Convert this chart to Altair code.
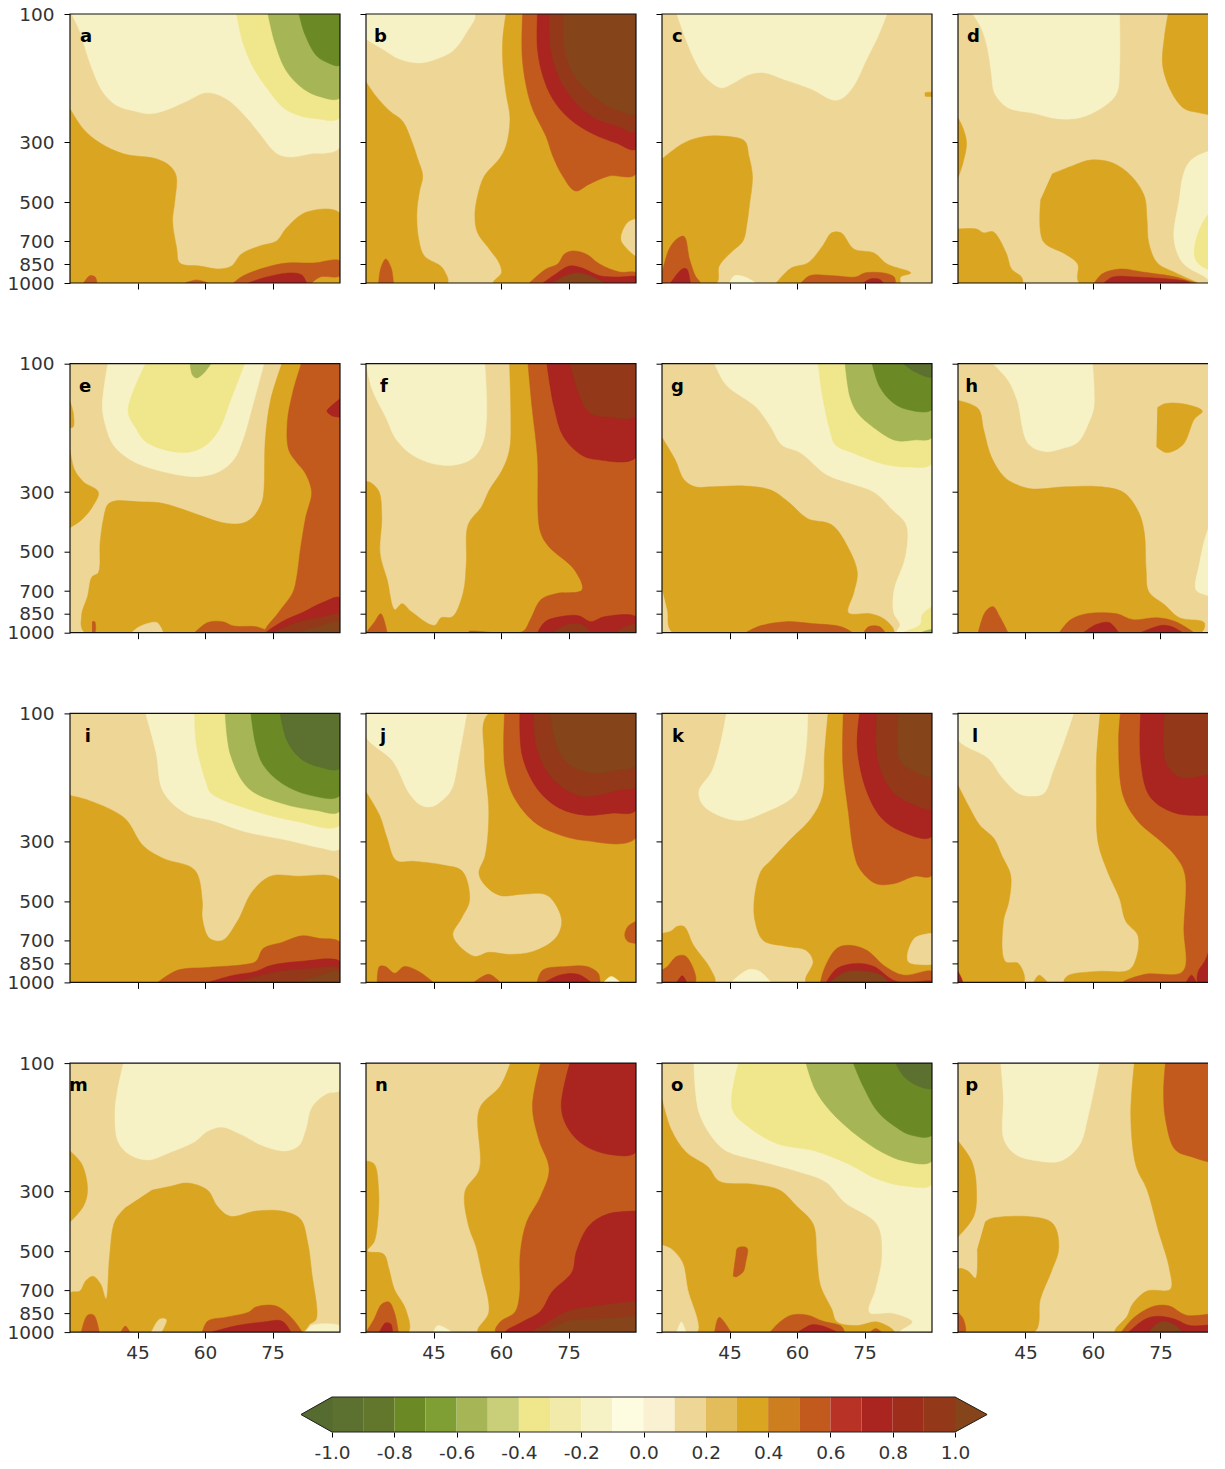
import altair as alt
import pandas as pd

BANDS = ["N", "M", "L", "K", "C", "T", "G", "O", "R", "B", "D"]
BAND_COLORS = ["#5C7030", "#6B8A25", "#A6B555", "#F0E68C", "#F7F2C5", "#EED696",
               "#DAA520", "#C25A1E", "#AA2420", "#93391A", "#85441A"]
FULL = [(30, 100), (90, 100), (90, 1000), (30, 1000)]

PANEL_A = [("T", FULL),
 ("G", [(30,225),(33,268),(36.7,302),(41.9,331),(49.3,346),(52.2,367),(53.6,400),(53.3,495),(52.8,588),(53.7,741),(54.4,843),(58.9,865),(63,887),(65.9,865),(68.1,780),(72.2,728),(75.9,698),(78.1,625),(82.6,545),(90,550),(90,1000),(30,1000)]),
 ("C", [(30.4,100),(32.2,116),(33.3,133),(34.8,158),(37.4,196),(40.4,219),(44.1,229),(47.8,235),(51.5,227),(55.9,211),(60.4,196),(64.8,207),(69.3,243),(72.2,279),(75.9,329),(78.9,340),(83.3,331),(90,313),(90,100)]),
 ("K", [(67,100),(68.5,129),(70.7,158),(73.7,188),(77.4,223),(81.1,239),(84.8,245),(90,243),(90,100)]),
 ("L", [(74,100),(75.6,129),(78.1,163),(81.9,190),(85.6,203),(90,205),(90,100)]),
 ("M", [(80.9,100),(82.2,119),(84.8,143),(87.4,152),(90,155),(90,100)]),
 ("O", [(66.3,1000),(68.5,940),(73,880),(78.1,843),(84,843),(90,828),(90,940),(85.6,950),(83.7,1000)]),
 ("R", [(69.6,1000),(73.7,950),(78.9,917),(81.5,933),(82.6,1000)]),
 ("O", [(33,1000),(34.4,940),(35.6,950),(36,1000)]),
 ("O", [(55.6,1000),(58.1,975),(60.7,1000)]),
]
PANEL_B = [("T", FULL),
 ("C", [(30,100),(54.1,100),(52.2,118),(49.3,137),(45.6,147),(41.9,152),(37.4,147),(33.7,135),(30,124)]),
 ("G", [(30,179),(32.2,202),(35.2,229),(38.1,250),(40,292),(41.5,346),(42.6,400),(41.9,455),(41.3,550),(41.7,686),(43,795),(46.3,858),(47.4,900),(48.1,1000),(30,1000)]),
 ("O", [(32.8,1000),(33.3,880),(34.4,814),(35.6,880),(36.1,1000)]),
 ("G", [(61.1,100),(60.4,124),(60.4,152),(61.1,196),(62,245),(61.1,310),(59.6,346),(56.3,400),(54.8,475),(54.2,564),(54.8,651),(57.4,747),(59.6,843),(60.1,917),(58.3,1000),(90,1000),(90,100)]),
 ("T", [(89.9,578),(88.1,598),(86.7,686),(88.1,747),(90,795)]),
 ("O", [(64.8,100),(64.7,143),(65.6,185),(67,225),(70,285),(71.5,337),(73.7,400),(76.5,455),(79.6,429),(84,400),(90,393),(90,100)]),
 ("R", [(68.1,100),(68.1,135),(69.3,170),(71.5,207),(75.2,245),(80.4,279),(85.6,302),(90,318),(90,100)]),
 ("B", [(70.7,100),(71.1,135),(73,174),(76.7,214),(81.1,245),(85.6,260),(90,273),(90,100)]),
 ("D", [(73.9,100),(73.9,124),(75.2,156),(78.1,185),(82.6,214),(86.3,229),(90,235),(90,100)]),
 ("O", [(66.3,1000),(70,887),(72.6,850),(74.1,780),(75.9,760),(78.9,780),(81.9,850),(86.3,910),(90,917),(90,1000)]),
 ("R", [(69.3,1000),(72.2,925),(75.2,865),(78.1,880),(81.9,940),(86.3,950),(90,950),(90,1000)]),
 ("D", [(71.5,1000),(74.4,940),(77.4,917),(80.4,950),(83,1000)]),
]
PANEL_C = [("T", FULL),
 ("C", [(33.3,100),(35.3,124),(37.4,150),(39.4,170),(43.1,188),(46,180),(49.3,168),(52.5,165),(57.5,176),(63.2,190),(68.1,209),(70.2,205),(72.6,185),(75.5,147),(78,121),(80,100)]),
 ("G", [(30,346),(34.5,304),(38.6,287),(44.3,285),(48.4,297),(49.3,337),(50.1,400),(49.4,518),(48.9,598),(48,698),(45.2,773),(42.7,865),(42.1,1000),(30,1000)]),
 ("O", [(30,917),(31.6,747),(33.3,686),(34.9,671),(36.1,814),(37.4,940),(38.4,1000),(30,1000)]),
 ("R", [(31.9,1000),(34.5,887),(35.5,887),(36.3,1000)]),
 ("C", [(45,1000),(46.1,940),(48.4,950),(50.9,1000)]),
 ("G", [(55.4,1000),(58.7,880),(62.4,843),(65.7,728),(67.7,651),(69.8,651),(72.6,747),(77.1,773),(80,850),(85.3,917),(83,950),(83,1000)]),
 ("O", [(60.9,1000),(62.8,940),(68.1,940),(73,950),(75.1,917),(79.6,920),(81.6,950),(81.9,1000)]),
 ("R", [(74.7,1000),(76.3,966),(78.4,970),(79.2,1000)]),
 ("G", [(88.4,196),(90,196),(90,202),(88.4,202)]),
]
PANEL_D = [("T", FULL),
 ("C", [(33.3,100),(35.3,114),(36.6,135),(37.4,165),(38.2,198),(41.1,223),(46.4,233),(52.1,245),(57,243),(62,223),(65.2,198),(65.9,156),(65.9,100)]),
 ("G", [(76.7,100),(75.9,121),(75.5,156),(77.5,196),(80,223),(82.5,231),(90,231),(90,100)]),
 ("G", [(30,243),(31.2,268),(31.9,302),(31.1,358),(30,407)]),
 ("G", [(50.9,393),(55.4,367),(59.5,349),(64.4,358),(68.5,400),(71.4,475),(72,578),(72.4,710),(74.3,843),(78.4,917),(82.5,985),(83.3,1000),(57,1000),(56.6,850),(53.8,780),(48.9,698),(48.4,487)]),
 ("G", [(30,630),(34.1,630),(35.7,651),(37.8,645),(40.7,773),(41.9,887),(44.1,950),(44.3,1000),(30,1000)]),
 ("O", [(60.3,1000),(62,925),(66.1,887),(71,910),(78.4,950),(82.9,1000)]),
 ("R", [(62.4,1000),(64.4,950),(69.3,950),(80.8,985),(81.6,1000)]),
 ("C", [(90,318),(85.7,324),(81.6,352),(80,400),(79.2,487),(78,686),(80,843),(84.9,950),(86.6,1000),(90,1000)]),
 ("K", [(90,487),(86.6,531),(83.7,630),(82.5,773),(83.3,843),(86.6,900),(90,880)]),
]
PANEL_E = [("T", FULL),
 ("G", [(77.1,100),(74.6,136),(73.4,192),(73.1,295),(72.6,329),(70.5,374),(68,393),(63.9,390),(59,367),(54,343),(49.9,329),(45,326),(40,324),(38.4,334),(37.4,380),(36.7,462),(36.3,598),(34.9,620),(33.9,734),(32.6,858),(33.3,1000),(90,1000),(90,100)]),
 ("O", [(81.4,100),(79.5,128),(78.3,165),(78.6,209),(80.4,233),(82.2,254),(83.7,300),(82.4,371),(81.2,490),(80.4,620),(79.5,710),(76.3,843),(73.4,1000),(90,1000),(90,100)]),
 ("O", [(57.7,1000),(60.6,917),(63.9,910),(66.4,945),(71.3,950),(75,1000)]),
 ("O", [(34.9,910),(35.5,910),(35.5,1000),(34.9,1000)]),
 ("T", [(43.7,1000),(45.4,950),(49.3,917),(50.7,1000)]),
 ("G", [(30,209),(31,248),(33,275),(36.3,300),(35,340),(32.6,380),(30,407)]),
 ("G", [(30,138),(30.7,152),(30.7,172),(30,173)]),
 ("C", [(38.4,100),(37.2,145),(38,172),(39.6,200),(43.3,227),(49.1,248),(58.1,263),(63.1,252),(66.4,227),(68.4,192),(70.5,145),(73.1,100)]),
 ("K", [(46.8,100),(42.9,150),(44.6,173),(47,196),(54.9,214),(59.8,203),(63.1,176),(65.6,138),(68.8,100)]),
 ("L", [(56.7,100),(57.2,110),(58.1,113),(59.8,108),(61.3,100)]),
 ("R", [(90,135),(87.8,145),(87.1,150),(88.2,156),(90,158)]),
 ("R", [(73.4,1000),(77.1,910),(82,836),(86.1,773),(90,741),(90,1000)]),
 ("B", [(75,1000),(80.4,917),(85.3,880),(90,858),(90,1000)]),
 ("D", [(80.4,1000),(85.3,945),(90,910),(90,1000)]),
]
PANEL_F = [("T", FULL),
 ("C", [(30,100),(31.4,125),(34.4,158),(36.8,192),(41,222),(47.6,239),(53.3,227),(55.8,200),(56.8,158),(56.4,100)]),
 ("G", [(61.9,100),(62.2,158),(61.9,209),(60.3,248),(57.4,295),(55.7,340),(52.7,397),(52.3,550),(51.6,710),(49.2,873),(46.7,880),(45.2,940),(40.1,836),(38,780),(36.4,821),(34.7,636),(33.1,505),(33.5,371),(32.7,295),(30,275),(30,1000),(90,1000),(90,100)]),
 ("O", [(66,100),(66.9,145),(68.1,222),(68.7,418),(70.6,478),(76.3,583),(78,693),(72.2,716),(68.9,753),(66.5,895),(64.8,990),(52.9,990),(52.9,1000),(90,1000),(90,100)]),
 ("O", [(30,1000),(31.8,917),(33.3,850),(34.7,1000)]),
 ("R", [(70.2,100),(71.8,145),(73.9,187),(78,219),(81.3,227),(90,223),(90,100)]),
 ("B", [(75.4,100),(77.2,128),(79.6,152),(83.7,158),(90,156),(90,100)]),
 ("R", [(68.1,1000),(69.8,910),(73,873),(77.2,865),(80,910),(82.9,873),(90,873),(90,1000)]),
 ("B", [(71.4,1000),(74.7,933),(78,933),(80,1000)]),
 ("B", [(85.4,1000),(87.9,945),(90,933),(90,1000)]),
]
PANEL_G = [("T", FULL),
 ("C", [(41.7,100),(44.3,120),(50.9,145),(54.2,172),(56.6,200),(60.7,214),(66.5,258),(71.4,277),(77.1,300),(81.2,349),(84.3,397),(84.1,522),(81.6,693),(81.5,843),(82.9,933),(82.2,1000),(90,1000),(90,100)]),
 ("K", [(64.7,100),(65.7,133),(67.3,176),(68.5,200),(72.2,214),(79.6,237),(84.5,242),(90,235),(90,100)]),
 ("L", [(70.7,100),(71.8,133),(73.4,152),(77.1,173),(82,193),(86.1,192),(90,188),(90,100)]),
 ("M", [(76.7,100),(78.4,122),(81.2,139),(84.5,148),(90,148),(90,100)]),
 ("N", [(83.7,100),(86.1,107),(90,112),(90,100)]),
 ("G", [(30,188),(32.9,227),(34.9,270),(37.4,287),(41.1,287),(48.4,285),(54.2,295),(58.3,329),(62.4,377),(67.7,397),(71.4,484),(73.4,598),(72.6,710),(71.4,843),(76.3,850),(79.6,895),(81.5,1000),(32.4,1000),(31.2,821),(30,680)]),
 ("O", [(48.6,1000),(51.7,945),(57.5,910),(63.2,925),(69.8,950),(72.4,1000)]),
 ("O", [(74.8,1000),(75.9,950),(78.4,950),(79.6,1000)]),
 ("K", [(90,800),(87.8,858),(87.4,933),(83.7,1000),(90,1000)]),
 ("L", [(87.4,1000),(90,975),(90,1000)]),
]
PANEL_H = [("T", FULL),
 ("C", [(37.8,100),(41.1,115),(43.1,136),(45.6,198),(49.3,212),(53,207),(56.6,196),(59.1,165),(60.2,145),(59.9,100)]),
 ("G", [(74.3,146),(75.9,141),(80,141),(84.3,150),(82.5,161),(80,200),(76.3,214),(74.1,203)]),
 ("G", [(30,137),(34.5,147),(35.7,176),(37.4,222),(40.2,263),(43.1,282),(46.4,292),(53.8,287),(62,287),(66.9,302),(70.2,358),(71.4,425),(71.8,583),(72.4,704),(75.9,787),(79.2,880),(84.7,917),(84,1000),(30,1000)]),
 ("O", [(34.5,1000),(36.1,836),(37.8,800),(39.3,873),(41.1,1000)]),
 ("O", [(52.5,1000),(55,895),(58.7,850),(65.2,850),(68.9,895),(74.3,880),(78.4,910),(82.5,1000)]),
 ("R", [(57.9,1000),(60.7,933),(63.6,917),(65.7,1000)]),
 ("R", [(70.6,1000),(75.1,940),(77.5,950),(80,1000)]),
 ("C", [(90,355),(87,371),(85.3,425),(83.7,550),(82.9,693),(84.9,722),(90,753)]),
]
PANEL_I = [("T", FULL),
 ("G", [(30,202),(34.3,211),(42.1,245),(46.2,310),(50.7,346),(57.7,382),(59.4,500),(59.4,578),(61,686),(63.9,698),(67.2,593),(70.5,460),(74.6,403),(80.4,403),(90,418),(90,1000),(30,1000)]),
 ("C", [(46.8,100),(49.1,139),(50.7,195),(55.7,235),(62.3,252),(68.8,275),(78.7,297),(85.3,315),(90,318),(90,100)]),
 ("K", [(57.7,100),(58.1,131),(60.2,179),(61.4,198),(70.5,229),(80.4,252),(90,260),(90,100)]),
 ("L", [(64.5,100),(65.7,143),(69.7,190),(77.1,216),(84.5,229),(90,231),(90,100)]),
 ("M", [(70.2,100),(71.3,131),(73,156),(77.1,182),(83.7,202),(90,202),(90,100)]),
 ("N", [(76.7,100),(78.3,127),(81.2,147),(85.3,158),(90,160),(90,100)]),
 ("O", [(49.5,1000),(54,900),(60.6,880),(68.8,858),(71.3,836),(73,747),(77.1,710),(81.6,671),(85.3,686),(90,710),(90,1000)]),
 ("R", [(60.6,1000),(66.4,940),(71.3,910),(74.6,865),(81.2,836),(90,836),(90,1000)]),
 ("B", [(66.4,1000),(72.1,945),(76.3,910),(83.7,887),(90,887),(90,1000)]),
 ("D", [(80.4,1000),(85.3,945),(90,910),(90,1000)]),
]
PANEL_J = [("T", FULL),
 ("G", [(30,196),(33,239),(34.7,292),(36.7,352),(40.9,355),(47.4,367),(51.4,386),(53,495),(51.2,578),(49.3,671),(54,800),(57.3,773),(61.9,787),(67.2,767),(72.1,686),(73.5,593),(71.7,500),(69.7,470),(64.7,470),(59.8,475),(56.5,436),(55.1,393),(56.5,337),(57.3,231),(56.3,143),(57.3,100),(90,100),(90,1000),(30,1000)]),
 ("C", [(30,100),(30,122),(35.9,150),(39.6,198),(42.1,219),(44.6,222),(47.4,207),(49.1,190),(50.7,143),(52.4,100)]),
 ("O", [(60.8,100),(60.8,156),(62.7,202),(67.2,252),(72.1,279),(78.7,297),(90,290),(90,100)]),
 ("R", [(64.2,100),(64.7,143),(68,190),(73,225),(78.7,239),(84.5,235),(90,229),(90,100)]),
 ("B", [(67.2,100),(68,135),(71.3,174),(77.1,202),(81.2,202),(86.1,193),(90,187),(90,100)]),
 ("D", [(70.9,100),(72.6,135),(75.4,156),(80.4,167),(85.3,163),(90,156),(90,100)]),
 ("O", [(90,593),(88.2,620),(87.5,671),(88.2,704),(90,716)]),
 ("O", [(32.5,1000),(33,873),(34.3,873),(36.4,925),(38.5,873),(41.7,910),(45,1000)]),
 ("O", [(54,1000),(57.3,933),(59.8,1000)]),
 ("O", [(68,1000),(69.3,900),(74.6,873),(79.1,873),(81.6,925),(82,1000)]),
 ("R", [(69.7,1000),(73,940),(77.1,933),(80,1000)]),
 ("C", [(82.8,1000),(84.5,950),(86.5,1000)]),
]
PANEL_K = [("T", FULL),
 ("C", [(44.3,100),(43.1,127),(41.1,164),(38.2,195),(39.4,222),(46.8,250),(53.4,231),(58.7,207),(60.3,190),(62,135),(62.4,100)]),
 ("G", [(66.9,100),(66.1,143),(65.7,202),(63.2,245),(58.3,297),(54.2,352),(52,386),(50.5,495),(50.7,593),(52.5,698),(57.5,734),(62,760),(63.6,836),(62,1000),(90,1000),(90,100)]),
 ("T", [(90,657),(86.1,686),(84.7,836),(90,858)]),
 ("O", [(70.3,100),(70.2,156),(71.4,231),(72.6,326),(73.9,377),(77.5,429),(81.6,429),(86.1,403),(90,400),(90,100)]),
 ("R", [(73.9,100),(73.4,135),(75.5,195),(78.8,245),(82.9,273),(90,287),(90,100)]),
 ("B", [(77.7,100),(78,150),(81.2,195),(85.3,216),(90,225),(90,100)]),
 ("D", [(82.5,100),(82.9,150),(86.1,164),(90,172),(90,100)]),
 ("G", [(30,657),(32,645),(33.3,620),(34.9,620),(37,728),(40.7,887),(41.7,1000),(30,1000)]),
 ("O", [(30,900),(31.2,873),(33.3,800),(35.3,800),(37.4,1000),(30,1000)]),
 ("R", [(33.3,1000),(34.5,945),(35.5,1000)]),
 ("C", [(45.3,1000),(49.3,895),(51.7,910),(54.2,1000)]),
 ("O", [(65.2,1000),(66.1,887),(68.9,747),(71.8,728),(75.5,760),(79.6,873),(83.7,940),(90,910),(90,1000)]),
 ("R", [(66.5,1000),(68.9,887),(73.4,850),(77.1,873),(82,990),(90,990),(90,1000)]),
 ("D", [(67.3,1000),(70.6,917),(75.5,910),(78.8,940),(80.4,1000)]),
]
PANEL_L = [("T", FULL),
 ("C", [(30,100),(30,125),(36.8,147),(39.7,172),(43.4,198),(46.2,203),(49.1,198),(51.1,164),(53.6,127),(55.7,100)]),
 ("G", [(30,185),(32.3,220),(34.8,260),(38,292),(39.7,337),(41.7,400),(41.3,500),(40.1,593),(40.5,836),(43.4,850),(44.6,1000),(30,1000)]),
 ("G", [(46.8,1000),(48,940),(49.9,1000)]),
 ("G", [(61.6,100),(60.8,147),(60.8,202),(61.1,300),(63.4,393),(65.9,487),(67.3,593),(70,671),(69.6,814),(68,900),(61,910),(54.4,945),(53.6,1000),(90,1000),(90,100)]),
 ("O", [(66.1,100),(65.7,127),(66.7,202),(70,252),(74.9,297),(78.2,337),(80.4,393),(80.2,630),(80,910),(71.6,933),(66.7,1000),(90,1000),(90,100)]),
 ("R", [(70.6,100),(70.6,150),(72.5,202),(76.6,229),(81.5,239),(90,225),(90,100)]),
 ("B", [(75.9,100),(76.1,150),(79,172),(83.1,172),(90,156),(90,100)]),
 ("R", [(90,570),(87.2,668),(84.8,836),(83.4,910),(83.4,1000),(90,1000)]),
 ("D", [(86.4,1000),(87.6,940),(90,910),(90,1000)]),
 ("R", [(30,910),(31,1000),(30,1000)]),
 ("R", [(80.7,1000),(81.9,940),(83,1000)]),
]
PANEL_M = [("T", FULL),
 ("C", [(41.9,100),(40.5,128),(40,152),(40.7,196),(43.3,219),(47.4,229),(52.4,214),(57.7,196),(60.6,179),(63.9,173),(68,184),(72.9,203),(77.9,212),(80.8,203),(82.4,176),(83.7,146),(87,130),(90,126),(90,100)]),
 ("G", [(30,212),(32.6,237),(33.9,295),(33,340),(30,390)]),
 ("G", [(48.1,297),(52.4,287),(56.1,279),(60.6,297),(62.7,340),(65.6,371),(71.3,355),(77.1,355),(81.2,380),(82.8,462),(83.7,598),(84.7,895),(83.3,933),(81.6,1000),(30,1000),(30,716),(32.2,704),(33.5,645),(35.1,620),(36.8,663),(38,753),(38.8,522),(40,386),(42.5,343)]),
 ("T", [(48.1,1000),(49.9,895),(51.4,900),(50.3,1000)]),
 ("O", [(32.5,1000),(33.9,865),(35.3,865),(36.5,1000)]),
 ("O", [(41.3,1000),(42.3,950),(43.3,1000)]),
 ("O", [(59.4,1000),(60.6,910),(64.7,880),(69.7,843),(71.3,807),(75.8,800),(79.5,895),(81.6,1000)]),
 ("R", [(61.4,1000),(67.2,945),(73,917),(77.1,910),(79.1,1000)]),
 ("C", [(82.4,1000),(83.7,945),(90,950),(90,1000)]),
]
PANEL_N = [("T", FULL),
 ("G", [(30,231),(31.8,237),(32.8,295),(32.6,390),(31.8,462),(30.3,500),(33.9,513),(35.1,583),(36.3,693),(38.8,821),(39.4,1000),(30,1000)]),
 ("O", [(30,1000),(31.8,895),(33.5,787),(35.1,773),(36.3,843),(37.2,1000)]),
 ("R", [(33,1000),(34.3,925),(35.5,933),(35.9,1000)]),
 ("G", [(62.1,100),(59.8,122),(55.2,148),(55.2,248),(52,300),(52.8,403),(54.4,478),(55.7,598),(57.3,843),(54.9,1000),(90,1000),(90,100)]),
 ("O", [(68.8,100),(67,145),(68.4,192),(70.7,248),(68.8,313),(65.7,390),(64.3,505),(64.1,734),(63.1,843),(59.8,917),(58.8,1000),(90,1000),(90,100)]),
 ("R", [(75.3,100),(73.4,146),(75,176),(78.7,203),(84.5,219),(90,214),(90,100)]),
 ("R", [(90,355),(83.7,364),(79.5,403),(76.7,505),(75.8,598),(71.3,710),(68.8,836),(64.7,917),(61,1000),(90,1000)]),
 ("B", [(90,767),(81.2,800),(75,836),(70.5,917),(67.2,1000),(90,1000)]),
 ("D", [(90,873),(81.2,895),(75,910),(70.5,1000),(90,1000)]),
 ("C", [(45,1000),(46,945),(49.1,1000)]),
]
PANEL_O = [("T", FULL),
 ("G", [(30,136),(32,176),(35.3,214),(40.2,243),(42.7,275),(50.1,282),(56.2,297),(59.9,340),(63.6,397),(64.4,522),(65.2,671),(67.7,821),(68.9,917),(73.4,945),(77.9,917),(81.6,1000),(30,1000)]),
 ("T", [(30,475),(32,490),(34.5,550),(35.7,693),(37.8,1000),(30,1000)]),
 ("C", [(37.1,100),(38.2,152),(41.5,192),(44.3,212),(51.7,231),(59.9,252),(66.5,277),(70.6,329),(77.8,397),(78.9,522),(77.5,693),(76.1,843),(81.2,850),(85.7,917),(82.9,1000),(90,1000),(90,100)]),
 ("K", [(47,100),(45.6,148),(49.3,173),(55.8,200),(64,212),(71.4,237),(77.9,270),(84.5,287),(90,282),(90,100)]),
 ("L", [(62,100),(64,125),(67.3,150),(73,184),(78.8,214),(83.7,231),(90,231),(90,100)]),
 ("M", [(72.5,100),(74.7,122),(78,152),(82,173),(85.3,185),(90,185),(90,100)]),
 ("N", [(81.9,100),(83.7,112),(86.6,121),(90,124),(90,100)]),
 ("O", [(45.8,620),(46.4,522),(46.8,487),(48.9,487),(48.6,550),(48,598),(46.4,625)]),
 ("O", [(41.7,1000),(42.7,880),(45.3,1000)]),
 ("O", [(54,1000),(56.2,917),(58.7,865),(62.4,865),(65.7,910),(69.8,950),(70.6,1000)]),
 ("R", [(60.3,1000),(63.2,940),(65.7,950),(68.9,1000)]),
 ("O", [(76.3,1000),(77.5,970),(78.8,1000)]),
 ("C", [(33.3,1000),(34.3,917),(35.3,1000)]),
]
PANEL_P = [("T", FULL),
 ("C", [(39.5,100),(40.1,133),(40.2,192),(42.9,219),(47.9,231),(52.8,231),(56.9,203),(58.9,158),(61.4,100)]),
 ("G", [(69.2,100),(68.4,158),(69.6,242),(72,295),(74.5,418),(77,583),(77.2,693),(72,704),(68.8,787),(67.6,873),(64.9,1000),(90,1000),(90,100)]),
 ("O", [(76.1,100),(75.7,128),(76.1,161),(78.2,209),(81.5,222),(90,231),(90,100)]),
 ("G", [(30,195),(33.1,233),(34.1,295),(33.5,371),(30,442)]),
 ("G", [(36,390),(37.6,377),(50.7,390),(52.4,484),(50.7,598),(48.3,753),(47,1000),(30,1000),(30,583),(32.2,593),(33.9,630),(34.3,490)]),
 ("O", [(66.3,1000),(69.2,880),(73.7,800),(77,800),(80.7,865),(90,865),(90,1000)]),
 ("R", [(67.9,1000),(71.6,895),(74.5,873),(78.2,895),(81.5,945),(90,945),(90,1000)]),
 ("D", [(72.4,1000),(74.9,917),(77.8,933),(79.8,1000)]),
 ("O", [(30,843),(31.2,895),(31.6,1000),(30,1000)]),
]

PANELS = [PANEL_A, PANEL_B, PANEL_C, PANEL_D, PANEL_E, PANEL_F, PANEL_G, PANEL_H,
          PANEL_I, PANEL_J, PANEL_K, PANEL_L, PANEL_M, PANEL_N, PANEL_O, PANEL_P]
LETTERS = list("abcdefghijklmnop")
LETTER_LAT = [32.2, 31.8, 32.2, 32, 32, 33.1, 32, 31.6, 33.3, 33.1, 32.2, 33.1, 29.8, 32, 32, 31.6]
LETTER_P = 122
Y_TICKS = [100, 300, 500, 700, 850, 1000]
X_TICKS = [45, 60, 75]
LAST_COL_LAT = 87.56  # the fourth column runs off the right edge of the figure

CBAR_EDGES = [round(-1 + 0.1 * i, 1) for i in range(21)]
CBAR_COLORS = ["#5C7030", "#62762C", "#6B8A25", "#7F9F35", "#A6B555", "#C8CF78", "#F0E68C",
               "#F2EAA8", "#F7F2C5", "#FDFBE0", "#FAF0D2", "#EED696", "#E3BC5C", "#DAA520",
               "#CD7F20", "#C25A1E", "#B83226", "#AA2420", "#9E2D1C", "#93391A"]
CBAR_TICKS = [-1.0, -0.8, -0.6, -0.4, -0.2, 0.0, 0.2, 0.4, 0.6, 0.8, 1.0]
CBAR_LOW = ("#556B2F", [-1.0, -1.0995, -1.0], [1, 0.5, 0])
CBAR_HIGH = ("#85441A", [1.0, 1.103, 1.0], [1, 0.5, 0])
CBAR_OUT_X = [-1.0, 1.0, 1.103, 1.0, -1.0, -1.0995, -1.0]
CBAR_OUT_Y = [1, 1, 0.5, 0, 0, 0.5, 1]

FONT = "DejaVu Sans"
FS = 18.5
TC = "#333333"
PW, PH = 270, 269

color_scale = alt.Scale(domain=BANDS, range=BAND_COLORS)
YS = alt.Scale(type="log", domain=[100, 1000], reverse=True, nice=False)


def panel(i):
    rows = []
    for pid, (band, verts) in enumerate(PANELS[i]):
        for k, (lat, hpa) in enumerate(verts):
            rows.append({"poly": pid, "k": k, "band": band, "lat": lat, "hpa": hpa})
    df = pd.DataFrame(rows)
    left = i % 4 == 0
    bottom = i >= 12
    last = i % 4 == 3
    end = LAST_COL_LAT if last else 90
    XS = alt.Scale(domain=[30, end], nice=False, zero=False)
    x = alt.X("lat:Q", scale=XS,
              axis=alt.Axis(values=X_TICKS, title=None, grid=False, domain=False, labels=bottom,
                            tickSize=6, tickColor="#000", labelFont=FONT, labelFontSize=FS,
                            labelColor=TC, labelPadding=5, format="d"))
    y = alt.Y("hpa:Q", scale=YS,
              axis=alt.Axis(values=Y_TICKS, title=None, grid=False, domain=False, labels=left,
                            tickSize=6, tickColor="#000", labelFont=FONT, labelFontSize=FS,
                            labelColor=TC, labelPadding=10, format="d", labelOverlap=False))
    shapes = alt.Chart(df).mark_line(interpolate="catmull-rom", strokeWidth=0.5, clip=True).encode(
        x=x, y=y, order="k:Q", detail="poly:N",
        fill=alt.Fill("band:N", scale=color_scale, legend=None),
        stroke=alt.Stroke("band:N", scale=color_scale, legend=None),
    )
    if last:
        fr_lat, fr_p = [end, 30, 30, end], [100, 100, 1000, 1000]
    else:
        fr_lat, fr_p = [30, 90, 90, 30, 30], [100, 100, 1000, 1000, 100]
    frame_df = pd.DataFrame({"lat": fr_lat, "hpa": fr_p, "k": range(len(fr_lat))})
    frame = alt.Chart(frame_df).mark_line(color="#111111", strokeWidth=1.2, strokeCap="square").encode(
        x=x, y=y, order="k:Q")
    lab = alt.Chart(pd.DataFrame({"lat": [LETTER_LAT[i]], "hpa": [LETTER_P], "t": [LETTERS[i]]})).mark_text(
        font=FONT, fontWeight="bold", fontSize=18, align="left", baseline="middle", color="#000", clip=True
    ).encode(x=x, y=y, text="t:N")
    return alt.layer(shapes, lab, frame).properties(width=259 if last else PW, height=PH)


grid = alt.concat(*[panel(i) for i in range(16)], columns=4,
                  spacing={"row": 80.7, "column": 26}, bounds="flush")

# colour bar
BX = alt.Scale(domain=[-1.8411, 1.8411], nice=False, zero=False)
BY = alt.Scale(domain=[0, 1], nice=False)
xax = alt.Axis(values=CBAR_TICKS, title=None, grid=False, domain=False, tickSize=5, tickColor="#000",
               labelFont=FONT, labelFontSize=FS, labelColor=TC, labelPadding=6,
               labelExpr="(datum.value<0?'-':'')+format(abs(datum.value),'.1f')")
cx = alt.X("x:Q", scale=BX, axis=xax)
cy = alt.Y("y:Q", scale=BY, axis=None)
cells = pd.DataFrame({"x": CBAR_EDGES[:-1], "b": CBAR_EDGES[1:], "c": CBAR_COLORS})
bar = alt.Chart(cells).mark_rect().encode(
    x=cx, x2="b:Q", y=alt.value(0), y2=alt.value(35),
    fill=alt.Fill("c:N", scale=None, legend=None))


def tri(t):
    return alt.Chart(pd.DataFrame({"x": t[1], "y": t[2], "k": range(3)})).mark_line(
        interpolate="linear-closed", fill=t[0], stroke=t[0], strokeWidth=0.5).encode(
        x=cx, y=cy, order="k:Q")


outline = alt.Chart(pd.DataFrame({"x": CBAR_OUT_X, "y": CBAR_OUT_Y, "k": range(7)})).mark_line(
    color="#222222", strokeWidth=1).encode(x=cx, y=cy, order="k:Q")

cbar = alt.layer(bar, tri(CBAR_LOW), tri(CBAR_HIGH), outline).properties(width=1147, height=35)

chart = alt.vconcat(grid, cbar, spacing=33).configure_view(stroke=None).properties(
    background="white", padding={"left": -2, "top": -3, "right": -12, "bottom": 1})

chart.save("out.html", embed_options={"renderer": "svg", "actions": False})
